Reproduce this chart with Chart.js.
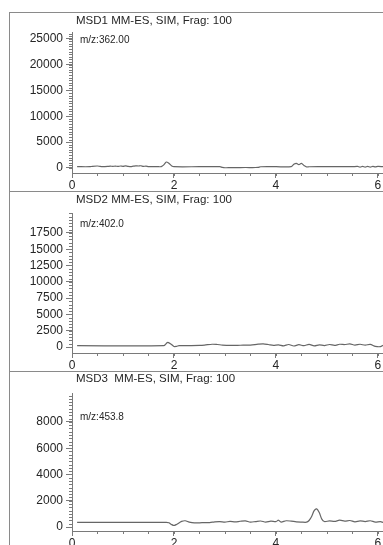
<!DOCTYPE html>
<html>
<head>
<meta charset="utf-8">
<script src="https://cdn.jsdelivr.net/npm/chart.js@4.4.1/dist/chart.umd.min.js"></script>
<style>
  html, body { margin:0; padding:0; background:#fff; }
  body { width:383px; height:545px; position:relative; overflow:hidden; }
  .panel { position:absolute; left:9px; width:374px; border-top:1px solid #8a8a8a; border-left:1px solid #8a8a8a; }
  canvas { position:absolute; left:0; display:block; }
</style>
</head>
<body>
<div class="panel" id="p1" style="top:12px;height:179px"><canvas id="c1" width="373" height="178" style="top:0"></canvas></div>
<div class="panel" id="p2" style="top:191px;height:180px"><canvas id="c2" width="373" height="179" style="top:0"></canvas></div>
<div class="panel" id="p3" style="top:371px;height:174px"><canvas id="c3" width="373" height="173" style="top:0"></canvas></div>
<script>
// panel texts
const titles = ['MSD1 MM-ES, SIM, Frag: 100', 'MSD2 MM-ES, SIM, Frag: 100', 'MSD3  MM-ES, SIM, Frag: 100'];
const ions = ['m/z:362.00', 'm/z:402.0', 'm/z:453.8'];

// shared time axis ticks (min)
const xTicks = [0, 2, 4, 6];

// MSD1 trace
const msd1Time = [0.1,0.35,0.4,0.5,0.55,0.6,0.7,0.75,0.8,0.85,0.9,0.95,1.0,1.05,1.1,1.15,1.2,1.25,1.3,1.35,1.4,1.45,1.5,1.6,1.7,1.75,1.8,1.85,1.9,1.95,2.0,2.5,2.9,2.95,3.0,3.1,3.2,3.4,3.6,3.65,3.7,4.0,4.3,4.35,4.4,4.45,4.5,4.55,4.6,4.65,5.0,5.5,5.6,5.65,5.7,5.75,5.8,5.85,5.9,5.95,6.0,6.1];
const msd1Abund = [250,250,330,380,300,260,300,360,320,360,300,380,330,400,300,280,350,420,380,430,310,360,280,260,250,260,600,1150,900,450,250,250,250,120,50,60,80,90,90,120,240,250,260,700,900,650,880,500,200,240,250,250,300,150,300,180,320,160,300,200,320,250];
const msd1YTicks = [0, 5000, 10000, 15000, 20000, 25000];

// MSD2 trace
const msd2Time = [0.1,1.8,1.85,1.88,1.95,2.0,2.05,2.1,2.3,2.5,2.6,2.75,2.85,2.95,3.1,3.3,3.5,3.65,3.75,3.85,3.95,4.05,4.15,4.25,4.35,4.45,4.55,4.65,4.75,4.85,4.95,5.05,5.15,5.25,5.35,5.45,5.55,5.65,5.75,5.85,5.95,6.05,6.1];
const msd2Abund = [200,200,550,720,400,80,100,200,220,250,300,420,380,300,250,270,300,430,480,380,250,330,180,380,150,350,200,400,180,330,220,380,250,420,380,470,300,420,280,400,100,50,250];
const msd2YTicks = [0, 2500, 5000, 7500, 10000, 12500, 15000, 17500];

// MSD3 trace
const msd3Time = [0.1,1.85,1.9,1.95,2.0,2.05,2.15,2.22,2.3,2.4,2.55,2.7,2.8,2.9,3.0,3.1,3.2,3.3,3.4,3.5,3.6,3.7,3.8,3.9,4.0,4.05,4.1,4.2,4.3,4.4,4.5,4.6,4.65,4.7,4.75,4.8,4.85,4.9,4.95,5.05,5.15,5.25,5.35,5.45,5.55,5.65,5.75,5.85,5.95,6.05,6.1];
const msd3Abund = [360,360,330,200,120,200,430,480,380,320,330,340,400,420,380,430,390,440,470,380,420,460,380,450,420,520,380,480,450,400,380,370,500,800,1250,1380,1100,600,420,470,430,520,450,500,400,470,420,480,380,420,350];
const msd3YTicks = [0, 2000, 4000, 6000, 8000];

const axisColor = '#7a7a7a';
const textColor = '#262626';
const traceColor = '#666666';
const fontFamily = '"Liberation Sans", Arial, sans-serif';

// title + ion label + minor ticks
const decor = {
  id: 'decor',
  afterDraw(chart, args, opts) {
    const ctx = chart.ctx, area = chart.chartArea;
    const x = chart.scales.x, y = chart.scales.y;
    ctx.save();
    ctx.fillStyle = textColor;
    ctx.textBaseline = 'middle';
    ctx.textAlign = 'left';
    ctx.font = '11.5px ' + fontFamily;
    ctx.fillText(opts.title, area.left + 4, opts.titleY);
    ctx.font = '10px ' + fontFamily;
    ctx.fillText(opts.ion, area.left + 8, opts.ionY);
    ctx.strokeStyle = axisColor;
    ctx.lineWidth = 1;
    ctx.beginPath();
    for (let v = 0; v <= y.max; v += opts.yMinor) {
      const py = Math.round(y.getPixelForValue(v)) + 0.5;
      ctx.moveTo(area.left - 3, py); ctx.lineTo(area.left, py);
    }
    for (let v = 0.5; v <= x.max; v += 0.5) {
      const px = Math.round(x.getPixelForValue(v)) + 0.5;
      ctx.moveTo(px, area.bottom); ctx.lineTo(px, area.bottom + 3);
    }
    ctx.stroke();
    ctx.restore();
  }
};

function makeChart(id, idx, time, abund, yTicks, yMin, yMax, topPad, xHeight, titleY, ionY, yMinor) {
  return new Chart(document.getElementById(id), {
    type: 'line',
    data: {
      datasets: [{
        data: time.map((t, i) => ({ x: t, y: abund[i] })),
        borderColor: traceColor,
        borderWidth: 1.2,
        pointRadius: 0,
        tension: 0.3,
        fill: false
      }]
    },
    options: {
      responsive: false,
      animation: false,
      devicePixelRatio: 1,
      layout: { padding: { top: topPad, left: 0, right: 0, bottom: 0 } },
      plugins: {
        legend: { display: false },
        tooltip: { enabled: false },
        decor: { title: titles[idx], ion: ions[idx], titleY: titleY, ionY: ionY, yMinor: yMinor }
      },
      scales: {
        x: {
          type: 'linear', min: 0, max: 6.1,
          afterBuildTicks: s => { s.ticks = xTicks.map(v => ({ value: v })); },
          afterFit: s => { s.height = xHeight; },
          grid: { drawOnChartArea: false, drawTicks: true, tickLength: 5, color: axisColor },
          border: { color: axisColor, width: 1 },
          ticks: { color: textColor, padding: 0, maxRotation: 0, callback: v => String(v), font: { family: fontFamily, size: 12 } }
        },
        y: {
          type: 'linear', min: yMin, max: yMax,
          afterBuildTicks: s => { s.ticks = yTicks.map(v => ({ value: v })); },
          afterFit: s => { s.width = 62; },
          grid: { drawOnChartArea: false, drawTicks: true, tickLength: 6, color: axisColor },
          border: { color: axisColor, width: 1 },
          ticks: { color: textColor, padding: 3, callback: v => String(v), font: { family: fontFamily, size: 12 } }
        }
      }
    },
    plugins: [decor]
  });
}

makeChart('c1', 0, msd1Time, msd1Abund, msd1YTicks, -970, 26300, 19, 18, 8, 27, 500);
makeChart('c2', 1, msd2Time, msd2Abund, msd2YTicks, -920, 20550, 21, 18, 8, 32, 500);
makeChart('c3', 2, msd3Time, msd3Abund, msd3YTicks, -300, 10200, 21, 14, 7, 45, 250);
</script>
</body>
</html>
